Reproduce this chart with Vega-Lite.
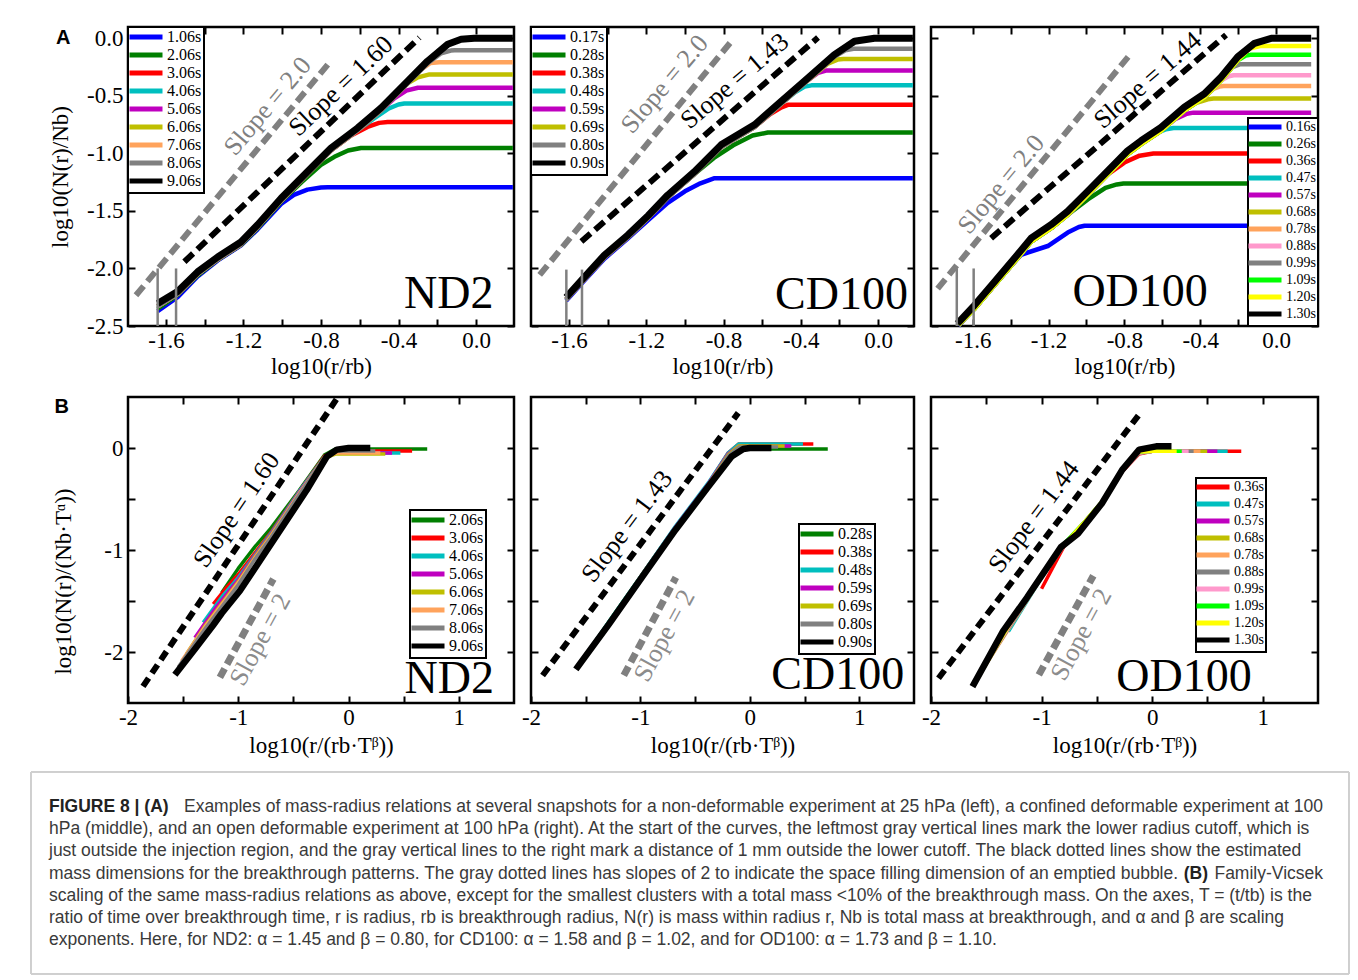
{
"$schema": "https://vega.github.io/schema/vega-lite/v6.json",
"background": "white",
"padding": {"left": 30, "top": 21, "right": 10, "bottom": 5},
"config": {
  "view": {"stroke": "black", "strokeWidth": 2.5},
  "axis": {"domain": false, "grid": false, "tickColor": "black", "tickWidth": 2, "tickSize": -7, "labelFont": "Liberation Serif", "labelFontSize": 23, "labelColor": "black", "labelFlush": false, "labelOverlap": false, "titleFont": "Liberation Serif", "titleFontSize": 23, "titleFontWeight": "normal", "titleColor": "black"},
  "axisX": {"labelPadding": 10},
  "axisY": {"labelPadding": 12},
  "legend": {"labelFont": "Liberation Serif", "labelFontSize": 16, "labelColor": "black", "symbolType": "M-5.5,0H5.5", "symbolStrokeWidth": 5, "symbolSize": 36, "symbolOffset": 8, "labelOffset": 13, "padding": 2, "rowPadding": -6, "strokeColor": "black", "fillColor": "white", "strokeWidth": 2}
},
"datasets": {
"curves": [
{"p":"A1","s":"1.06s","x":-1.643,"y":-2.37},{"p":"A1","s":"1.06s","x":-1.54,"y":-2.25},{"p":"A1","s":"1.06s","x":-1.437,"y":-2.07},{"p":"A1","s":"1.06s","x":-1.333,"y":-1.93},{"p":"A1","s":"1.06s","x":-1.213,"y":-1.8},{"p":"A1","s":"1.06s","x":-1.127,"y":-1.66},{"p":"A1","s":"1.06s","x":-1.006,"y":-1.44},{"p":"A1","s":"1.06s","x":-0.94,"y":-1.36},{"p":"A1","s":"1.06s","x":-0.87,"y":-1.315},{"p":"A1","s":"1.06s","x":-0.8,"y":-1.297},{"p":"A1","s":"1.06s","x":-0.766,"y":-1.294},{"p":"A1","s":"1.06s","x":0.19,"y":-1.294},
{"p":"A1","s":"2.06s","x":-1.643,"y":-2.35},{"p":"A1","s":"2.06s","x":-1.54,"y":-2.23},{"p":"A1","s":"2.06s","x":-1.437,"y":-2.06},{"p":"A1","s":"2.06s","x":-1.333,"y":-1.925},{"p":"A1","s":"2.06s","x":-1.213,"y":-1.795},{"p":"A1","s":"2.06s","x":-1.127,"y":-1.65},{"p":"A1","s":"2.06s","x":-1.006,"y":-1.42},{"p":"A1","s":"2.06s","x":-0.9,"y":-1.25},{"p":"A1","s":"2.06s","x":-0.8,"y":-1.1},{"p":"A1","s":"2.06s","x":-0.731,"y":-1.03},{"p":"A1","s":"2.06s","x":-0.66,"y":-0.975},{"p":"A1","s":"2.06s","x":-0.594,"y":-0.953},{"p":"A1","s":"2.06s","x":0.19,"y":-0.953},
{"p":"A1","s":"3.06s","x":-1.643,"y":-2.33},{"p":"A1","s":"3.06s","x":-1.54,"y":-2.22},{"p":"A1","s":"3.06s","x":-1.437,"y":-2.05},{"p":"A1","s":"3.06s","x":-1.333,"y":-1.92},{"p":"A1","s":"3.06s","x":-1.213,"y":-1.79},{"p":"A1","s":"3.06s","x":-1.127,"y":-1.64},{"p":"A1","s":"3.06s","x":-1.006,"y":-1.41},{"p":"A1","s":"3.06s","x":-0.869,"y":-1.177},{"p":"A1","s":"3.06s","x":-0.748,"y":-0.973},{"p":"A1","s":"3.06s","x":-0.65,"y":-0.85},{"p":"A1","s":"3.06s","x":-0.56,"y":-0.77},{"p":"A1","s":"3.06s","x":-0.5,"y":-0.735},{"p":"A1","s":"3.06s","x":-0.456,"y":-0.727},{"p":"A1","s":"3.06s","x":0.19,"y":-0.727},
{"p":"A1","s":"4.06s","x":-1.643,"y":-2.33},{"p":"A1","s":"4.06s","x":-1.54,"y":-2.22},{"p":"A1","s":"4.06s","x":-1.437,"y":-2.05},{"p":"A1","s":"4.06s","x":-1.333,"y":-1.92},{"p":"A1","s":"4.06s","x":-1.213,"y":-1.79},{"p":"A1","s":"4.06s","x":-1.127,"y":-1.64},{"p":"A1","s":"4.06s","x":-1.006,"y":-1.41},{"p":"A1","s":"4.06s","x":-0.869,"y":-1.177},{"p":"A1","s":"4.06s","x":-0.748,"y":-0.973},{"p":"A1","s":"4.06s","x":-0.611,"y":-0.799},{"p":"A1","s":"4.06s","x":-0.53,"y":-0.7},{"p":"A1","s":"4.06s","x":-0.45,"y":-0.61},{"p":"A1","s":"4.06s","x":-0.4,"y":-0.575},{"p":"A1","s":"4.06s","x":-0.37,"y":-0.567},{"p":"A1","s":"4.06s","x":0.19,"y":-0.567},
{"p":"A1","s":"5.06s","x":-1.643,"y":-2.33},{"p":"A1","s":"5.06s","x":-1.54,"y":-2.22},{"p":"A1","s":"5.06s","x":-1.437,"y":-2.05},{"p":"A1","s":"5.06s","x":-1.333,"y":-1.92},{"p":"A1","s":"5.06s","x":-1.213,"y":-1.79},{"p":"A1","s":"5.06s","x":-1.127,"y":-1.64},{"p":"A1","s":"5.06s","x":-1.006,"y":-1.41},{"p":"A1","s":"5.06s","x":-0.869,"y":-1.177},{"p":"A1","s":"5.06s","x":-0.748,"y":-0.973},{"p":"A1","s":"5.06s","x":-0.611,"y":-0.799},{"p":"A1","s":"5.06s","x":-0.49,"y":-0.625},{"p":"A1","s":"5.06s","x":-0.42,"y":-0.52},{"p":"A1","s":"5.06s","x":-0.36,"y":-0.455},{"p":"A1","s":"5.06s","x":-0.3,"y":-0.43},{"p":"A1","s":"5.06s","x":0.19,"y":-0.43},
{"p":"A1","s":"6.06s","x":-1.643,"y":-2.33},{"p":"A1","s":"6.06s","x":-1.54,"y":-2.22},{"p":"A1","s":"6.06s","x":-1.437,"y":-2.05},{"p":"A1","s":"6.06s","x":-1.333,"y":-1.92},{"p":"A1","s":"6.06s","x":-1.213,"y":-1.79},{"p":"A1","s":"6.06s","x":-1.127,"y":-1.64},{"p":"A1","s":"6.06s","x":-1.006,"y":-1.41},{"p":"A1","s":"6.06s","x":-0.869,"y":-1.177},{"p":"A1","s":"6.06s","x":-0.748,"y":-0.973},{"p":"A1","s":"6.06s","x":-0.611,"y":-0.799},{"p":"A1","s":"6.06s","x":-0.49,"y":-0.625},{"p":"A1","s":"6.06s","x":-0.353,"y":-0.392},{"p":"A1","s":"6.06s","x":-0.3,"y":-0.34},{"p":"A1","s":"6.06s","x":-0.24,"y":-0.314},{"p":"A1","s":"6.06s","x":0.19,"y":-0.314},
{"p":"A1","s":"7.06s","x":-1.643,"y":-2.33},{"p":"A1","s":"7.06s","x":-1.54,"y":-2.22},{"p":"A1","s":"7.06s","x":-1.437,"y":-2.05},{"p":"A1","s":"7.06s","x":-1.333,"y":-1.92},{"p":"A1","s":"7.06s","x":-1.213,"y":-1.79},{"p":"A1","s":"7.06s","x":-1.127,"y":-1.64},{"p":"A1","s":"7.06s","x":-1.006,"y":-1.41},{"p":"A1","s":"7.06s","x":-0.869,"y":-1.177},{"p":"A1","s":"7.06s","x":-0.748,"y":-0.973},{"p":"A1","s":"7.06s","x":-0.611,"y":-0.799},{"p":"A1","s":"7.06s","x":-0.49,"y":-0.625},{"p":"A1","s":"7.06s","x":-0.353,"y":-0.392},{"p":"A1","s":"7.06s","x":-0.29,"y":-0.28},{"p":"A1","s":"7.06s","x":-0.235,"y":-0.215},{"p":"A1","s":"7.06s","x":-0.19,"y":-0.209},{"p":"A1","s":"7.06s","x":0.19,"y":-0.209},
{"p":"A1","s":"8.06s","x":-1.643,"y":-2.33},{"p":"A1","s":"8.06s","x":-1.54,"y":-2.22},{"p":"A1","s":"8.06s","x":-1.437,"y":-2.05},{"p":"A1","s":"8.06s","x":-1.333,"y":-1.92},{"p":"A1","s":"8.06s","x":-1.213,"y":-1.79},{"p":"A1","s":"8.06s","x":-1.127,"y":-1.64},{"p":"A1","s":"8.06s","x":-1.006,"y":-1.41},{"p":"A1","s":"8.06s","x":-0.869,"y":-1.177},{"p":"A1","s":"8.06s","x":-0.748,"y":-0.973},{"p":"A1","s":"8.06s","x":-0.611,"y":-0.799},{"p":"A1","s":"8.06s","x":-0.49,"y":-0.625},{"p":"A1","s":"8.06s","x":-0.353,"y":-0.392},{"p":"A1","s":"8.06s","x":-0.25,"y":-0.218},{"p":"A1","s":"8.06s","x":-0.18,"y":-0.13},{"p":"A1","s":"8.06s","x":-0.13,"y":-0.107},{"p":"A1","s":"8.06s","x":-0.11,"y":-0.105},{"p":"A1","s":"8.06s","x":0.19,"y":-0.105},
{"p":"A1","s":"9.06s","x":-1.643,"y":-2.305},{"p":"A1","s":"9.06s","x":-1.54,"y":-2.2},{"p":"A1","s":"9.06s","x":-1.437,"y":-2.03},{"p":"A1","s":"9.06s","x":-1.333,"y":-1.9},{"p":"A1","s":"9.06s","x":-1.213,"y":-1.77},{"p":"A1","s":"9.06s","x":-1.127,"y":-1.62},{"p":"A1","s":"9.06s","x":-1.006,"y":-1.39},{"p":"A1","s":"9.06s","x":-0.869,"y":-1.157},{"p":"A1","s":"9.06s","x":-0.748,"y":-0.953},{"p":"A1","s":"9.06s","x":-0.611,"y":-0.779},{"p":"A1","s":"9.06s","x":-0.49,"y":-0.605},{"p":"A1","s":"9.06s","x":-0.353,"y":-0.372},{"p":"A1","s":"9.06s","x":-0.25,"y":-0.198},{"p":"A1","s":"9.06s","x":-0.146,"y":-0.052},{"p":"A1","s":"9.06s","x":-0.077,"y":-0.009},{"p":"A1","s":"9.06s","x":-0.009,"y":0},{"p":"A1","s":"9.06s","x":0.19,"y":0},

{"p":"A2","s":"0.17s","x":-1.615,"y":-2.28},{"p":"A2","s":"0.17s","x":-1.529,"y":-2.12},{"p":"A2","s":"0.17s","x":-1.417,"y":-1.915},{"p":"A2","s":"0.17s","x":-1.296,"y":-1.74},{"p":"A2","s":"0.17s","x":-1.19,"y":-1.58},{"p":"A2","s":"0.17s","x":-1.089,"y":-1.43},{"p":"A2","s":"0.17s","x":-1.0,"y":-1.33},{"p":"A2","s":"0.17s","x":-0.92,"y":-1.26},{"p":"A2","s":"0.17s","x":-0.85,"y":-1.217},{"p":"A2","s":"0.17s","x":0.18,"y":-1.217},
{"p":"A2","s":"0.28s","x":-1.615,"y":-2.27},{"p":"A2","s":"0.28s","x":-1.529,"y":-2.11},{"p":"A2","s":"0.28s","x":-1.417,"y":-1.904},{"p":"A2","s":"0.28s","x":-1.296,"y":-1.73},{"p":"A2","s":"0.28s","x":-1.19,"y":-1.56},{"p":"A2","s":"0.28s","x":-1.089,"y":-1.382},{"p":"A2","s":"0.28s","x":-0.951,"y":-1.179},{"p":"A2","s":"0.28s","x":-0.85,"y":-1.04},{"p":"A2","s":"0.28s","x":-0.75,"y":-0.93},{"p":"A2","s":"0.28s","x":-0.65,"y":-0.845},{"p":"A2","s":"0.28s","x":-0.571,"y":-0.819},{"p":"A2","s":"0.28s","x":0.18,"y":-0.819},
{"p":"A2","s":"0.38s","x":-1.615,"y":-2.27},{"p":"A2","s":"0.38s","x":-1.529,"y":-2.11},{"p":"A2","s":"0.38s","x":-1.417,"y":-1.904},{"p":"A2","s":"0.38s","x":-1.296,"y":-1.73},{"p":"A2","s":"0.38s","x":-1.19,"y":-1.56},{"p":"A2","s":"0.38s","x":-1.089,"y":-1.382},{"p":"A2","s":"0.38s","x":-0.951,"y":-1.179},{"p":"A2","s":"0.38s","x":-0.813,"y":-0.946},{"p":"A2","s":"0.38s","x":-0.64,"y":-0.772},{"p":"A2","s":"0.38s","x":-0.56,"y":-0.66},{"p":"A2","s":"0.38s","x":-0.5,"y":-0.6},{"p":"A2","s":"0.38s","x":-0.467,"y":-0.578},{"p":"A2","s":"0.38s","x":0.18,"y":-0.578},
{"p":"A2","s":"0.48s","x":-1.615,"y":-2.27},{"p":"A2","s":"0.48s","x":-1.529,"y":-2.11},{"p":"A2","s":"0.48s","x":-1.417,"y":-1.904},{"p":"A2","s":"0.48s","x":-1.296,"y":-1.73},{"p":"A2","s":"0.48s","x":-1.19,"y":-1.56},{"p":"A2","s":"0.48s","x":-1.089,"y":-1.382},{"p":"A2","s":"0.48s","x":-0.951,"y":-1.179},{"p":"A2","s":"0.48s","x":-0.813,"y":-0.946},{"p":"A2","s":"0.48s","x":-0.64,"y":-0.772},{"p":"A2","s":"0.48s","x":-0.502,"y":-0.569},{"p":"A2","s":"0.48s","x":-0.43,"y":-0.47},{"p":"A2","s":"0.48s","x":-0.38,"y":-0.42},{"p":"A2","s":"0.48s","x":-0.345,"y":-0.409},{"p":"A2","s":"0.48s","x":0.18,"y":-0.409},
{"p":"A2","s":"0.59s","x":-1.615,"y":-2.27},{"p":"A2","s":"0.59s","x":-1.529,"y":-2.11},{"p":"A2","s":"0.59s","x":-1.417,"y":-1.904},{"p":"A2","s":"0.59s","x":-1.296,"y":-1.73},{"p":"A2","s":"0.59s","x":-1.19,"y":-1.56},{"p":"A2","s":"0.59s","x":-1.089,"y":-1.382},{"p":"A2","s":"0.59s","x":-0.951,"y":-1.179},{"p":"A2","s":"0.59s","x":-0.813,"y":-0.946},{"p":"A2","s":"0.59s","x":-0.64,"y":-0.772},{"p":"A2","s":"0.59s","x":-0.502,"y":-0.569},{"p":"A2","s":"0.59s","x":-0.364,"y":-0.366},{"p":"A2","s":"0.59s","x":-0.31,"y":-0.3},{"p":"A2","s":"0.59s","x":-0.27,"y":-0.281},{"p":"A2","s":"0.59s","x":0.18,"y":-0.281},
{"p":"A2","s":"0.69s","x":-1.615,"y":-2.27},{"p":"A2","s":"0.69s","x":-1.529,"y":-2.11},{"p":"A2","s":"0.69s","x":-1.417,"y":-1.904},{"p":"A2","s":"0.69s","x":-1.296,"y":-1.73},{"p":"A2","s":"0.69s","x":-1.19,"y":-1.56},{"p":"A2","s":"0.69s","x":-1.089,"y":-1.382},{"p":"A2","s":"0.69s","x":-0.951,"y":-1.179},{"p":"A2","s":"0.69s","x":-0.813,"y":-0.946},{"p":"A2","s":"0.69s","x":-0.64,"y":-0.772},{"p":"A2","s":"0.69s","x":-0.502,"y":-0.569},{"p":"A2","s":"0.69s","x":-0.364,"y":-0.366},{"p":"A2","s":"0.69s","x":-0.26,"y":-0.22},{"p":"A2","s":"0.69s","x":-0.21,"y":-0.185},{"p":"A2","s":"0.69s","x":-0.18,"y":-0.18},{"p":"A2","s":"0.69s","x":0.18,"y":-0.18},
{"p":"A2","s":"0.80s","x":-1.615,"y":-2.27},{"p":"A2","s":"0.80s","x":-1.529,"y":-2.11},{"p":"A2","s":"0.80s","x":-1.417,"y":-1.904},{"p":"A2","s":"0.80s","x":-1.296,"y":-1.73},{"p":"A2","s":"0.80s","x":-1.19,"y":-1.56},{"p":"A2","s":"0.80s","x":-1.089,"y":-1.382},{"p":"A2","s":"0.80s","x":-0.951,"y":-1.179},{"p":"A2","s":"0.80s","x":-0.813,"y":-0.946},{"p":"A2","s":"0.80s","x":-0.64,"y":-0.772},{"p":"A2","s":"0.80s","x":-0.502,"y":-0.569},{"p":"A2","s":"0.80s","x":-0.364,"y":-0.366},{"p":"A2","s":"0.80s","x":-0.226,"y":-0.162},{"p":"A2","s":"0.80s","x":-0.17,"y":-0.105},{"p":"A2","s":"0.80s","x":-0.12,"y":-0.09},{"p":"A2","s":"0.80s","x":0.18,"y":-0.09},
{"p":"A2","s":"0.90s","x":-1.615,"y":-2.25},{"p":"A2","s":"0.90s","x":-1.529,"y":-2.09},{"p":"A2","s":"0.90s","x":-1.417,"y":-1.884},{"p":"A2","s":"0.90s","x":-1.296,"y":-1.71},{"p":"A2","s":"0.90s","x":-1.19,"y":-1.54},{"p":"A2","s":"0.90s","x":-1.089,"y":-1.362},{"p":"A2","s":"0.90s","x":-0.951,"y":-1.159},{"p":"A2","s":"0.90s","x":-0.813,"y":-0.926},{"p":"A2","s":"0.90s","x":-0.64,"y":-0.752},{"p":"A2","s":"0.90s","x":-0.502,"y":-0.549},{"p":"A2","s":"0.90s","x":-0.364,"y":-0.346},{"p":"A2","s":"0.90s","x":-0.226,"y":-0.142},{"p":"A2","s":"0.90s","x":-0.122,"y":-0.026},{"p":"A2","s":"0.90s","x":-0.019,"y":0},{"p":"A2","s":"0.90s","x":0.18,"y":0},

{"p":"A3","s":"0.16s","x":-1.675,"y":-2.5},{"p":"A3","s":"0.16s","x":-1.523,"y":-2.203},{"p":"A3","s":"0.16s","x":-1.345,"y":-1.881},{"p":"A3","s":"0.16s","x":-1.204,"y":-1.805},{"p":"A3","s":"0.16s","x":-1.099,"y":-1.688},{"p":"A3","s":"0.16s","x":-1.04,"y":-1.64},{"p":"A3","s":"0.16s","x":-1.01,"y":-1.629},{"p":"A3","s":"0.16s","x":0.185,"y":-1.629},
{"p":"A3","s":"0.26s","x":-1.675,"y":-2.49},{"p":"A3","s":"0.26s","x":-1.591,"y":-2.35},{"p":"A3","s":"0.26s","x":-1.486,"y":-2.147},{"p":"A3","s":"0.26s","x":-1.38,"y":-1.942},{"p":"A3","s":"0.26s","x":-1.292,"y":-1.767},{"p":"A3","s":"0.26s","x":-1.187,"y":-1.65},{"p":"A3","s":"0.26s","x":-1.099,"y":-1.533},{"p":"A3","s":"0.26s","x":-0.993,"y":-1.4},{"p":"A3","s":"0.26s","x":-0.9,"y":-1.3},{"p":"A3","s":"0.26s","x":-0.84,"y":-1.27},{"p":"A3","s":"0.26s","x":-0.805,"y":-1.262},{"p":"A3","s":"0.26s","x":0.185,"y":-1.262},
{"p":"A3","s":"0.36s","x":-1.675,"y":-2.49},{"p":"A3","s":"0.36s","x":-1.591,"y":-2.35},{"p":"A3","s":"0.36s","x":-1.486,"y":-2.147},{"p":"A3","s":"0.36s","x":-1.38,"y":-1.942},{"p":"A3","s":"0.36s","x":-1.292,"y":-1.767},{"p":"A3","s":"0.36s","x":-1.187,"y":-1.65},{"p":"A3","s":"0.36s","x":-1.099,"y":-1.533},{"p":"A3","s":"0.36s","x":-0.993,"y":-1.358},{"p":"A3","s":"0.36s","x":-0.888,"y":-1.183},{"p":"A3","s":"0.36s","x":-0.8,"y":-1.08},{"p":"A3","s":"0.36s","x":-0.72,"y":-1.02},{"p":"A3","s":"0.36s","x":-0.647,"y":-1.002},{"p":"A3","s":"0.36s","x":0.185,"y":-1.002},
{"p":"A3","s":"0.47s","x":-1.675,"y":-2.49},{"p":"A3","s":"0.47s","x":-1.591,"y":-2.35},{"p":"A3","s":"0.47s","x":-1.486,"y":-2.147},{"p":"A3","s":"0.47s","x":-1.38,"y":-1.942},{"p":"A3","s":"0.47s","x":-1.292,"y":-1.767},{"p":"A3","s":"0.47s","x":-1.187,"y":-1.65},{"p":"A3","s":"0.47s","x":-1.099,"y":-1.533},{"p":"A3","s":"0.47s","x":-0.993,"y":-1.358},{"p":"A3","s":"0.47s","x":-0.888,"y":-1.183},{"p":"A3","s":"0.47s","x":-0.783,"y":-1.007},{"p":"A3","s":"0.47s","x":-0.712,"y":-0.92},{"p":"A3","s":"0.47s","x":-0.64,"y":-0.83},{"p":"A3","s":"0.47s","x":-0.58,"y":-0.79},{"p":"A3","s":"0.47s","x":-0.541,"y":-0.78},{"p":"A3","s":"0.47s","x":0.185,"y":-0.78},
{"p":"A3","s":"0.57s","x":-1.675,"y":-2.49},{"p":"A3","s":"0.57s","x":-1.591,"y":-2.35},{"p":"A3","s":"0.57s","x":-1.486,"y":-2.147},{"p":"A3","s":"0.57s","x":-1.38,"y":-1.942},{"p":"A3","s":"0.57s","x":-1.292,"y":-1.767},{"p":"A3","s":"0.57s","x":-1.187,"y":-1.65},{"p":"A3","s":"0.57s","x":-1.099,"y":-1.533},{"p":"A3","s":"0.57s","x":-0.993,"y":-1.358},{"p":"A3","s":"0.57s","x":-0.888,"y":-1.183},{"p":"A3","s":"0.57s","x":-0.783,"y":-1.007},{"p":"A3","s":"0.57s","x":-0.712,"y":-0.92},{"p":"A3","s":"0.57s","x":-0.607,"y":-0.804},{"p":"A3","s":"0.57s","x":-0.53,"y":-0.7},{"p":"A3","s":"0.57s","x":-0.47,"y":-0.655},{"p":"A3","s":"0.57s","x":-0.436,"y":-0.646},{"p":"A3","s":"0.57s","x":0.185,"y":-0.646},
{"p":"A3","s":"0.68s","x":-1.675,"y":-2.49},{"p":"A3","s":"0.68s","x":-1.591,"y":-2.35},{"p":"A3","s":"0.68s","x":-1.486,"y":-2.147},{"p":"A3","s":"0.68s","x":-1.38,"y":-1.942},{"p":"A3","s":"0.68s","x":-1.292,"y":-1.767},{"p":"A3","s":"0.68s","x":-1.187,"y":-1.65},{"p":"A3","s":"0.68s","x":-1.099,"y":-1.533},{"p":"A3","s":"0.68s","x":-0.993,"y":-1.358},{"p":"A3","s":"0.68s","x":-0.888,"y":-1.183},{"p":"A3","s":"0.68s","x":-0.783,"y":-1.007},{"p":"A3","s":"0.68s","x":-0.712,"y":-0.92},{"p":"A3","s":"0.68s","x":-0.607,"y":-0.804},{"p":"A3","s":"0.68s","x":-0.484,"y":-0.629},{"p":"A3","s":"0.68s","x":-0.42,"y":-0.56},{"p":"A3","s":"0.68s","x":-0.36,"y":-0.53},{"p":"A3","s":"0.68s","x":-0.33,"y":-0.524},{"p":"A3","s":"0.68s","x":0.185,"y":-0.524},
{"p":"A3","s":"0.78s","x":-1.675,"y":-2.49},{"p":"A3","s":"0.78s","x":-1.591,"y":-2.35},{"p":"A3","s":"0.78s","x":-1.486,"y":-2.147},{"p":"A3","s":"0.78s","x":-1.38,"y":-1.942},{"p":"A3","s":"0.78s","x":-1.292,"y":-1.767},{"p":"A3","s":"0.78s","x":-1.187,"y":-1.65},{"p":"A3","s":"0.78s","x":-1.099,"y":-1.533},{"p":"A3","s":"0.78s","x":-0.993,"y":-1.358},{"p":"A3","s":"0.78s","x":-0.888,"y":-1.183},{"p":"A3","s":"0.78s","x":-0.783,"y":-1.007},{"p":"A3","s":"0.78s","x":-0.712,"y":-0.92},{"p":"A3","s":"0.78s","x":-0.607,"y":-0.804},{"p":"A3","s":"0.78s","x":-0.484,"y":-0.629},{"p":"A3","s":"0.78s","x":-0.378,"y":-0.512},{"p":"A3","s":"0.78s","x":-0.33,"y":-0.44},{"p":"A3","s":"0.78s","x":-0.3,"y":-0.42},{"p":"A3","s":"0.78s","x":-0.277,"y":-0.414},{"p":"A3","s":"0.78s","x":0.185,"y":-0.414},
{"p":"A3","s":"0.88s","x":-1.675,"y":-2.49},{"p":"A3","s":"0.88s","x":-1.591,"y":-2.35},{"p":"A3","s":"0.88s","x":-1.486,"y":-2.147},{"p":"A3","s":"0.88s","x":-1.38,"y":-1.942},{"p":"A3","s":"0.88s","x":-1.292,"y":-1.767},{"p":"A3","s":"0.88s","x":-1.187,"y":-1.65},{"p":"A3","s":"0.88s","x":-1.099,"y":-1.533},{"p":"A3","s":"0.88s","x":-0.993,"y":-1.358},{"p":"A3","s":"0.88s","x":-0.888,"y":-1.183},{"p":"A3","s":"0.88s","x":-0.783,"y":-1.007},{"p":"A3","s":"0.88s","x":-0.712,"y":-0.92},{"p":"A3","s":"0.88s","x":-0.607,"y":-0.804},{"p":"A3","s":"0.88s","x":-0.484,"y":-0.629},{"p":"A3","s":"0.88s","x":-0.378,"y":-0.512},{"p":"A3","s":"0.88s","x":-0.29,"y":-0.366},{"p":"A3","s":"0.88s","x":-0.25,"y":-0.33},{"p":"A3","s":"0.88s","x":-0.224,"y":-0.321},{"p":"A3","s":"0.88s","x":0.185,"y":-0.321},
{"p":"A3","s":"0.99s","x":-1.675,"y":-2.49},{"p":"A3","s":"0.99s","x":-1.591,"y":-2.35},{"p":"A3","s":"0.99s","x":-1.486,"y":-2.147},{"p":"A3","s":"0.99s","x":-1.38,"y":-1.942},{"p":"A3","s":"0.99s","x":-1.292,"y":-1.767},{"p":"A3","s":"0.99s","x":-1.187,"y":-1.65},{"p":"A3","s":"0.99s","x":-1.099,"y":-1.533},{"p":"A3","s":"0.99s","x":-0.993,"y":-1.358},{"p":"A3","s":"0.99s","x":-0.888,"y":-1.183},{"p":"A3","s":"0.99s","x":-0.783,"y":-1.007},{"p":"A3","s":"0.99s","x":-0.712,"y":-0.92},{"p":"A3","s":"0.99s","x":-0.607,"y":-0.804},{"p":"A3","s":"0.99s","x":-0.484,"y":-0.629},{"p":"A3","s":"0.99s","x":-0.378,"y":-0.512},{"p":"A3","s":"0.99s","x":-0.29,"y":-0.366},{"p":"A3","s":"0.99s","x":-0.23,"y":-0.25},{"p":"A3","s":"0.99s","x":-0.189,"y":-0.225},{"p":"A3","s":"0.99s","x":0.185,"y":-0.225},
{"p":"A3","s":"1.09s","x":-1.675,"y":-2.49},{"p":"A3","s":"1.09s","x":-1.591,"y":-2.35},{"p":"A3","s":"1.09s","x":-1.486,"y":-2.147},{"p":"A3","s":"1.09s","x":-1.38,"y":-1.942},{"p":"A3","s":"1.09s","x":-1.292,"y":-1.767},{"p":"A3","s":"1.09s","x":-1.187,"y":-1.65},{"p":"A3","s":"1.09s","x":-1.099,"y":-1.533},{"p":"A3","s":"1.09s","x":-0.993,"y":-1.358},{"p":"A3","s":"1.09s","x":-0.888,"y":-1.183},{"p":"A3","s":"1.09s","x":-0.783,"y":-1.007},{"p":"A3","s":"1.09s","x":-0.712,"y":-0.92},{"p":"A3","s":"1.09s","x":-0.607,"y":-0.804},{"p":"A3","s":"1.09s","x":-0.484,"y":-0.629},{"p":"A3","s":"1.09s","x":-0.378,"y":-0.512},{"p":"A3","s":"1.09s","x":-0.29,"y":-0.366},{"p":"A3","s":"1.09s","x":-0.202,"y":-0.191},{"p":"A3","s":"1.09s","x":-0.16,"y":-0.15},{"p":"A3","s":"1.09s","x":-0.136,"y":-0.144},{"p":"A3","s":"1.09s","x":0.185,"y":-0.144},
{"p":"A3","s":"1.20s","x":-1.675,"y":-2.49},{"p":"A3","s":"1.20s","x":-1.591,"y":-2.35},{"p":"A3","s":"1.20s","x":-1.486,"y":-2.147},{"p":"A3","s":"1.20s","x":-1.38,"y":-1.942},{"p":"A3","s":"1.20s","x":-1.292,"y":-1.767},{"p":"A3","s":"1.20s","x":-1.187,"y":-1.65},{"p":"A3","s":"1.20s","x":-1.099,"y":-1.533},{"p":"A3","s":"1.20s","x":-0.993,"y":-1.358},{"p":"A3","s":"1.20s","x":-0.888,"y":-1.183},{"p":"A3","s":"1.20s","x":-0.783,"y":-1.007},{"p":"A3","s":"1.20s","x":-0.712,"y":-0.92},{"p":"A3","s":"1.20s","x":-0.607,"y":-0.804},{"p":"A3","s":"1.20s","x":-0.484,"y":-0.629},{"p":"A3","s":"1.20s","x":-0.378,"y":-0.512},{"p":"A3","s":"1.20s","x":-0.29,"y":-0.366},{"p":"A3","s":"1.20s","x":-0.202,"y":-0.191},{"p":"A3","s":"1.20s","x":-0.14,"y":-0.09},{"p":"A3","s":"1.20s","x":-0.084,"y":-0.068},{"p":"A3","s":"1.20s","x":0.185,"y":-0.068},
{"p":"A3","s":"1.30s","x":-1.681,"y":-2.48},{"p":"A3","s":"1.30s","x":-1.591,"y":-2.32},{"p":"A3","s":"1.30s","x":-1.486,"y":-2.117},{"p":"A3","s":"1.30s","x":-1.38,"y":-1.912},{"p":"A3","s":"1.30s","x":-1.292,"y":-1.737},{"p":"A3","s":"1.30s","x":-1.187,"y":-1.62},{"p":"A3","s":"1.30s","x":-1.099,"y":-1.503},{"p":"A3","s":"1.30s","x":-0.993,"y":-1.328},{"p":"A3","s":"1.30s","x":-0.888,"y":-1.153},{"p":"A3","s":"1.30s","x":-0.783,"y":-0.977},{"p":"A3","s":"1.30s","x":-0.712,"y":-0.89},{"p":"A3","s":"1.30s","x":-0.607,"y":-0.774},{"p":"A3","s":"1.30s","x":-0.484,"y":-0.599},{"p":"A3","s":"1.30s","x":-0.378,"y":-0.482},{"p":"A3","s":"1.30s","x":-0.29,"y":-0.336},{"p":"A3","s":"1.30s","x":-0.202,"y":-0.161},{"p":"A3","s":"1.30s","x":-0.114,"y":-0.044},{"p":"A3","s":"1.30s","x":-0.026,"y":0},{"p":"A3","s":"1.30s","x":0.185,"y":0},

{"p":"B1","s":"2.06s","x":-1.15,"y":-1.42},{"p":"B1","s":"2.06s","x":-1.0,"y":-1.18},{"p":"B1","s":"2.06s","x":-0.85,"y":-0.97},{"p":"B1","s":"2.06s","x":-0.7,"y":-0.78},{"p":"B1","s":"2.06s","x":-0.45,"y":-0.42},{"p":"B1","s":"2.06s","x":-0.22,"y":-0.07},{"p":"B1","s":"2.06s","x":-0.12,"y":-0.01},{"p":"B1","s":"2.06s","x":0.713,"y":-0.01},
{"p":"B1","s":"3.06s","x":-1.227,"y":-1.53},{"p":"B1","s":"3.06s","x":-1.1,"y":-1.36},{"p":"B1","s":"3.06s","x":-1.0,"y":-1.24},{"p":"B1","s":"3.06s","x":-0.85,"y":-1.03},{"p":"B1","s":"3.06s","x":-0.7,"y":-0.82},{"p":"B1","s":"3.06s","x":-0.45,"y":-0.43},{"p":"B1","s":"3.06s","x":-0.22,"y":-0.08},{"p":"B1","s":"3.06s","x":-0.12,"y":-0.03},{"p":"B1","s":"3.06s","x":0.576,"y":-0.03},
{"p":"B1","s":"4.06s","x":-1.318,"y":-1.71},{"p":"B1","s":"4.06s","x":-1.15,"y":-1.46},{"p":"B1","s":"4.06s","x":-1.0,"y":-1.27},{"p":"B1","s":"4.06s","x":-0.85,"y":-1.05},{"p":"B1","s":"4.06s","x":-0.7,"y":-0.83},{"p":"B1","s":"4.06s","x":-0.45,"y":-0.43},{"p":"B1","s":"4.06s","x":-0.22,"y":-0.09},{"p":"B1","s":"4.06s","x":-0.12,"y":-0.05},{"p":"B1","s":"4.06s","x":0.47,"y":-0.05},
{"p":"B1","s":"5.06s","x":-1.394,"y":-1.86},{"p":"B1","s":"5.06s","x":-1.2,"y":-1.56},{"p":"B1","s":"5.06s","x":-1.0,"y":-1.29},{"p":"B1","s":"5.06s","x":-0.85,"y":-1.06},{"p":"B1","s":"5.06s","x":-0.7,"y":-0.84},{"p":"B1","s":"5.06s","x":-0.45,"y":-0.44},{"p":"B1","s":"5.06s","x":-0.22,"y":-0.1},{"p":"B1","s":"5.06s","x":-0.12,"y":-0.05},{"p":"B1","s":"5.06s","x":0.394,"y":-0.05},
{"p":"B1","s":"6.06s","x":-1.47,"y":-2.02},{"p":"B1","s":"6.06s","x":-1.3,"y":-1.74},{"p":"B1","s":"6.06s","x":-1.0,"y":-1.31},{"p":"B1","s":"6.06s","x":-0.85,"y":-1.07},{"p":"B1","s":"6.06s","x":-0.7,"y":-0.85},{"p":"B1","s":"6.06s","x":-0.45,"y":-0.45},{"p":"B1","s":"6.06s","x":-0.22,"y":-0.1},{"p":"B1","s":"6.06s","x":-0.12,"y":-0.06},{"p":"B1","s":"6.06s","x":0.333,"y":-0.06},
{"p":"B1","s":"7.06s","x":-1.515,"y":-2.09},{"p":"B1","s":"7.06s","x":-1.3,"y":-1.75},{"p":"B1","s":"7.06s","x":-1.0,"y":-1.32},{"p":"B1","s":"7.06s","x":-0.85,"y":-1.08},{"p":"B1","s":"7.06s","x":-0.7,"y":-0.86},{"p":"B1","s":"7.06s","x":-0.45,"y":-0.45},{"p":"B1","s":"7.06s","x":-0.22,"y":-0.1},{"p":"B1","s":"7.06s","x":-0.12,"y":-0.05},{"p":"B1","s":"7.06s","x":0.288,"y":-0.05},
{"p":"B1","s":"8.06s","x":-1.545,"y":-2.15},{"p":"B1","s":"8.06s","x":-1.3,"y":-1.77},{"p":"B1","s":"8.06s","x":-1.0,"y":-1.34},{"p":"B1","s":"8.06s","x":-0.85,"y":-1.09},{"p":"B1","s":"8.06s","x":-0.7,"y":-0.87},{"p":"B1","s":"8.06s","x":-0.45,"y":-0.46},{"p":"B1","s":"8.06s","x":-0.22,"y":-0.1},{"p":"B1","s":"8.06s","x":-0.12,"y":-0.03},{"p":"B1","s":"8.06s","x":0.242,"y":-0.03},
{"p":"B1","s":"9.06s","x":-1.575,"y":-2.223},{"p":"B1","s":"9.06s","x":-1.4,"y":-1.98},{"p":"B1","s":"9.06s","x":-1.23,"y":-1.74},{"p":"B1","s":"9.06s","x":-1.15,"y":-1.62},{"p":"B1","s":"9.06s","x":-0.985,"y":-1.4},{"p":"B1","s":"9.06s","x":-0.682,"y":-0.906},{"p":"B1","s":"9.06s","x":-0.379,"y":-0.412},{"p":"B1","s":"9.06s","x":-0.197,"y":-0.083},{"p":"B1","s":"9.06s","x":-0.106,"y":-0.016},{"p":"B1","s":"9.06s","x":0,"y":0},{"p":"B1","s":"9.06s","x":0.197,"y":0},

{"p":"B2","s":"0.28s","x":-1.4,"y":-1.88},{"p":"B2","s":"0.28s","x":-1.287,"y":-1.7},{"p":"B2","s":"0.28s","x":-0.985,"y":-1.24},{"p":"B2","s":"0.28s","x":-0.682,"y":-0.78},{"p":"B2","s":"0.28s","x":-0.379,"y":-0.36},{"p":"B2","s":"0.28s","x":-0.17,"y":-0.06},{"p":"B2","s":"0.28s","x":-0.08,"y":-0.01},{"p":"B2","s":"0.28s","x":0.712,"y":-0.01},
{"p":"B2","s":"0.38s","x":-1.2,"y":-1.58},{"p":"B2","s":"0.38s","x":-0.985,"y":-1.24},{"p":"B2","s":"0.38s","x":-0.682,"y":-0.78},{"p":"B2","s":"0.38s","x":-0.379,"y":-0.35},{"p":"B2","s":"0.38s","x":-0.2,"y":-0.05},{"p":"B2","s":"0.38s","x":-0.1,"y":0.04},{"p":"B2","s":"0.38s","x":0.58,"y":0.04},
{"p":"B2","s":"0.48s","x":-1.45,"y":-1.95},{"p":"B2","s":"0.48s","x":-1.287,"y":-1.7},{"p":"B2","s":"0.48s","x":-0.985,"y":-1.24},{"p":"B2","s":"0.48s","x":-0.682,"y":-0.77},{"p":"B2","s":"0.48s","x":-0.379,"y":-0.34},{"p":"B2","s":"0.48s","x":-0.2,"y":-0.05},{"p":"B2","s":"0.48s","x":-0.1,"y":0.04},{"p":"B2","s":"0.48s","x":0.485,"y":0.04},
{"p":"B2","s":"0.59s","x":-1.48,"y":-2.0},{"p":"B2","s":"0.59s","x":-1.287,"y":-1.71},{"p":"B2","s":"0.59s","x":-0.985,"y":-1.25},{"p":"B2","s":"0.59s","x":-0.682,"y":-0.78},{"p":"B2","s":"0.59s","x":-0.379,"y":-0.35},{"p":"B2","s":"0.59s","x":-0.2,"y":-0.06},{"p":"B2","s":"0.59s","x":-0.1,"y":0.02},{"p":"B2","s":"0.59s","x":0.379,"y":0.02},
{"p":"B2","s":"0.69s","x":-1.52,"y":-2.06},{"p":"B2","s":"0.69s","x":-1.287,"y":-1.71},{"p":"B2","s":"0.69s","x":-0.985,"y":-1.25},{"p":"B2","s":"0.69s","x":-0.682,"y":-0.79},{"p":"B2","s":"0.69s","x":-0.379,"y":-0.36},{"p":"B2","s":"0.69s","x":-0.2,"y":-0.07},{"p":"B2","s":"0.69s","x":-0.1,"y":0.02},{"p":"B2","s":"0.69s","x":0.318,"y":0.02},
{"p":"B2","s":"0.80s","x":-1.55,"y":-2.1},{"p":"B2","s":"0.80s","x":-1.287,"y":-1.72},{"p":"B2","s":"0.80s","x":-0.985,"y":-1.26},{"p":"B2","s":"0.80s","x":-0.682,"y":-0.8},{"p":"B2","s":"0.80s","x":-0.379,"y":-0.37},{"p":"B2","s":"0.80s","x":-0.2,"y":-0.08},{"p":"B2","s":"0.80s","x":-0.1,"y":0.01},{"p":"B2","s":"0.80s","x":0.258,"y":0.01},
{"p":"B2","s":"0.90s","x":-1.59,"y":-2.17},{"p":"B2","s":"0.90s","x":-1.287,"y":-1.727},{"p":"B2","s":"0.90s","x":-0.985,"y":-1.267},{"p":"B2","s":"0.90s","x":-0.682,"y":-0.806},{"p":"B2","s":"0.90s","x":-0.379,"y":-0.378},{"p":"B2","s":"0.90s","x":-0.167,"y":-0.083},{"p":"B2","s":"0.90s","x":-0.06,"y":-0.01},{"p":"B2","s":"0.90s","x":0,"y":0},{"p":"B2","s":"0.90s","x":0.197,"y":0},

{"p":"B3","s":"0.36s","x":-1.0,"y":-1.38},{"p":"B3","s":"0.36s","x":-0.8,"y":-0.97},{"p":"B3","s":"0.36s","x":-0.6,"y":-0.73},{"p":"B3","s":"0.36s","x":-0.45,"y":-0.54},{"p":"B3","s":"0.36s","x":-0.27,"y":-0.23},{"p":"B3","s":"0.36s","x":-0.12,"y":-0.06},{"p":"B3","s":"0.36s","x":0,"y":-0.033},{"p":"B3","s":"0.36s","x":0.806,"y":-0.033},
{"p":"B3","s":"0.47s","x":-1.3,"y":-1.8},{"p":"B3","s":"0.47s","x":-1.0,"y":-1.27},{"p":"B3","s":"0.47s","x":-0.8,"y":-0.96},{"p":"B3","s":"0.47s","x":-0.6,"y":-0.72},{"p":"B3","s":"0.47s","x":-0.45,"y":-0.53},{"p":"B3","s":"0.47s","x":-0.27,"y":-0.22},{"p":"B3","s":"0.47s","x":-0.12,"y":-0.05},{"p":"B3","s":"0.47s","x":0,"y":-0.033},{"p":"B3","s":"0.47s","x":0.683,"y":-0.033},
{"p":"B3","s":"0.57s","x":-1.45,"y":-2.0},{"p":"B3","s":"0.57s","x":-1.3,"y":-1.77},{"p":"B3","s":"0.57s","x":-1.0,"y":-1.26},{"p":"B3","s":"0.57s","x":-0.8,"y":-0.96},{"p":"B3","s":"0.57s","x":-0.6,"y":-0.73},{"p":"B3","s":"0.57s","x":-0.45,"y":-0.54},{"p":"B3","s":"0.57s","x":-0.27,"y":-0.22},{"p":"B3","s":"0.57s","x":-0.12,"y":-0.05},{"p":"B3","s":"0.57s","x":0,"y":-0.033},{"p":"B3","s":"0.57s","x":0.59,"y":-0.033},
{"p":"B3","s":"0.68s","x":-1.5,"y":-2.1},{"p":"B3","s":"0.68s","x":-1.3,"y":-1.76},{"p":"B3","s":"0.68s","x":-1.0,"y":-1.25},{"p":"B3","s":"0.68s","x":-0.8,"y":-0.95},{"p":"B3","s":"0.68s","x":-0.6,"y":-0.71},{"p":"B3","s":"0.68s","x":-0.45,"y":-0.52},{"p":"B3","s":"0.68s","x":-0.27,"y":-0.21},{"p":"B3","s":"0.68s","x":-0.12,"y":-0.05},{"p":"B3","s":"0.68s","x":0,"y":-0.033},{"p":"B3","s":"0.68s","x":0.498,"y":-0.033},
{"p":"B3","s":"0.78s","x":-1.52,"y":-2.15},{"p":"B3","s":"0.78s","x":-1.3,"y":-1.78},{"p":"B3","s":"0.78s","x":-1.0,"y":-1.27},{"p":"B3","s":"0.78s","x":-0.8,"y":-0.96},{"p":"B3","s":"0.78s","x":-0.6,"y":-0.72},{"p":"B3","s":"0.78s","x":-0.45,"y":-0.53},{"p":"B3","s":"0.78s","x":-0.27,"y":-0.22},{"p":"B3","s":"0.78s","x":-0.12,"y":-0.05},{"p":"B3","s":"0.78s","x":0,"y":-0.033},{"p":"B3","s":"0.78s","x":0.437,"y":-0.033},
{"p":"B3","s":"0.88s","x":-1.55,"y":-2.2},{"p":"B3","s":"0.88s","x":-1.3,"y":-1.77},{"p":"B3","s":"0.88s","x":-1.0,"y":-1.26},{"p":"B3","s":"0.88s","x":-0.8,"y":-0.95},{"p":"B3","s":"0.88s","x":-0.6,"y":-0.72},{"p":"B3","s":"0.88s","x":-0.45,"y":-0.53},{"p":"B3","s":"0.88s","x":-0.27,"y":-0.22},{"p":"B3","s":"0.88s","x":-0.12,"y":-0.05},{"p":"B3","s":"0.88s","x":0,"y":-0.033},{"p":"B3","s":"0.88s","x":0.375,"y":-0.033},
{"p":"B3","s":"0.99s","x":-1.55,"y":-2.2},{"p":"B3","s":"0.99s","x":-1.3,"y":-1.76},{"p":"B3","s":"0.99s","x":-1.0,"y":-1.25},{"p":"B3","s":"0.99s","x":-0.8,"y":-0.95},{"p":"B3","s":"0.99s","x":-0.6,"y":-0.71},{"p":"B3","s":"0.99s","x":-0.45,"y":-0.52},{"p":"B3","s":"0.99s","x":-0.27,"y":-0.21},{"p":"B3","s":"0.99s","x":-0.12,"y":-0.05},{"p":"B3","s":"0.99s","x":0,"y":-0.033},{"p":"B3","s":"0.99s","x":0.33,"y":-0.033},
{"p":"B3","s":"1.09s","x":-1.58,"y":-2.25},{"p":"B3","s":"1.09s","x":-1.3,"y":-1.74},{"p":"B3","s":"1.09s","x":-1.0,"y":-1.24},{"p":"B3","s":"1.09s","x":-0.8,"y":-0.94},{"p":"B3","s":"1.09s","x":-0.6,"y":-0.71},{"p":"B3","s":"1.09s","x":-0.45,"y":-0.52},{"p":"B3","s":"1.09s","x":-0.27,"y":-0.21},{"p":"B3","s":"1.09s","x":-0.12,"y":-0.04},{"p":"B3","s":"1.09s","x":0,"y":-0.033},{"p":"B3","s":"1.09s","x":0.268,"y":-0.033},
{"p":"B3","s":"1.20s","x":-1.6,"y":-2.3},{"p":"B3","s":"1.20s","x":-1.3,"y":-1.75},{"p":"B3","s":"1.20s","x":-1.0,"y":-1.25},{"p":"B3","s":"1.20s","x":-0.8,"y":-0.95},{"p":"B3","s":"1.20s","x":-0.6,"y":-0.71},{"p":"B3","s":"1.20s","x":-0.45,"y":-0.52},{"p":"B3","s":"1.20s","x":-0.27,"y":-0.21},{"p":"B3","s":"1.20s","x":-0.12,"y":-0.04},{"p":"B3","s":"1.20s","x":0,"y":-0.033},{"p":"B3","s":"1.20s","x":0.222,"y":-0.033},
{"p":"B3","s":"1.30s","x":-1.625,"y":-2.34},{"p":"B3","s":"1.30s","x":-1.348,"y":-1.796},{"p":"B3","s":"1.30s","x":-1.132,"y":-1.466},{"p":"B3","s":"1.30s","x":-0.825,"y":-0.972},{"p":"B3","s":"1.30s","x":-0.671,"y":-0.84},{"p":"B3","s":"1.30s","x":-0.455,"y":-0.544},{"p":"B3","s":"1.30s","x":-0.271,"y":-0.214},{"p":"B3","s":"1.30s","x":-0.117,"y":-0.016},{"p":"B3","s":"1.30s","x":0.037,"y":0.016},{"p":"B3","s":"1.30s","x":0.175,"y":0.016}
],
"slopes": [
{"p":"A1","k":"g","x":-1.755,"y":-2.233},{"p":"A1","k":"g","x":-0.757,"y":-0.212},
{"p":"A1","k":"b","x":-1.505,"y":-1.942},{"p":"A1","k":"b","x":-0.292,"y":0.006},
{"p":"A2","k":"g","x":-1.752,"y":-2.056},{"p":"A2","k":"g","x":-0.751,"y":-0.009},
{"p":"A2","k":"b","x":-1.536,"y":-1.765},{"p":"A2","k":"b","x":-0.311,"y":0.006},
{"p":"A3","k":"g","x":-1.785,"y":-2.175},{"p":"A3","k":"g","x":-0.765,"y":-0.131},
{"p":"A3","k":"b","x":-1.503,"y":-1.737},{"p":"A3","k":"b","x":-0.264,"y":0.029},
{"p":"B1","k":"b","x":-1.864,"y":-2.337},{"p":"B1","k":"b","x":-0.106,"y":0.484},
{"p":"B1","k":"g","x":-1.167,"y":-2.249},{"p":"B1","k":"g","x":-0.682,"y":-1.284},
{"p":"B2","k":"b","x":-1.894,"y":-2.23},{"p":"B2","k":"b","x":-0.106,"y":0.344},
{"p":"B2","k":"g","x":-1.152,"y":-2.23},{"p":"B2","k":"g","x":-0.676,"y":-1.269},
{"p":"B3","k":"b","x":-1.932,"y":-2.257},{"p":"B3","k":"b","x":-0.117,"y":0.329},
{"p":"B3","k":"g","x":-1.025,"y":-2.224},{"p":"B3","k":"g","x":-0.532,"y":-1.252}
],
"labels": [
{"p":"A1","k":"g","x":-1.075,"y":-0.59,"t":"Slope = 2.0"},{"p":"A1","k":"b","x":-0.697,"y":-0.416,"t":"Slope = 1.60"},
{"p":"A2","k":"g","x":-1.105,"y":-0.4,"t":"Slope = 2.0"},{"p":"A2","k":"b","x":-0.742,"y":-0.372,"t":"Slope = 1.43"},
{"p":"A3","k":"g","x":-1.45,"y":-1.27,"t":"Slope = 2.0"},{"p":"A3","k":"b","x":-0.677,"y":-0.365,"t":"Slope = 1.44"},
{"p":"B1","k":"b","x":-1.015,"y":-0.609,"t":"Slope = 1.60"},{"p":"B1","k":"g","x":-0.8,"y":-1.88,"t":"Slope = 2"},
{"p":"B2","k":"b","x":-1.121,"y":-0.77,"t":"Slope = 1.43"},{"p":"B2","k":"g","x":-0.78,"y":-1.84,"t":"Slope = 2"},
{"p":"B3","k":"b","x":-1.07,"y":-0.675,"t":"Slope = 1.44"},{"p":"B3","k":"g","x":-0.64,"y":-1.83,"t":"Slope = 2"}
],
"names": [
{"p":"A1","x":0.09,"y":-2.34,"t":"ND2"},{"p":"A2","x":0.155,"y":-2.35,"t":"CD100"},{"p":"A3","x":-0.36,"y":-2.33,"t":"OD100"},
{"p":"B1","x":1.318,"y":-2.4,"t":"ND2"},{"p":"B2","x":1.41,"y":-2.36,"t":"CD100"},{"p":"B3","x":0.9,"y":-2.38,"t":"OD100"}
],
"cut": [
{"p":"A1","x":-1.643,"y":-2.5,"y2":-2.0},{"p":"A1","x":-1.548,"y":-2.5,"y2":-2.0},
{"p":"A2","x":-1.614,"y":-2.5,"y2":-2.01},{"p":"A2","x":-1.533,"y":-2.5,"y2":-2.01},
{"p":"A3","x":-1.684,"y":-2.5,"y2":-2.0},{"p":"A3","x":-1.595,"y":-2.5,"y2":-2.0}
],
"letters": [
{"p":"A1","x":-2.13,"y":0.0,"t":"A"},{"p":"B1","x":-2.6,"y":0.4,"t":"B"}
],
"cap": [
{"l":1,"c":0,"w":"b","t":"FIGURE 8 | (A)"},
{"l":1,"c":1,"w":"n","t":"Examples of mass-radius relations at several snapshots for a non-deformable experiment at 25 hPa (left), a confined deformable experiment at 100"},
{"l":2,"c":0,"w":"n","t":"hPa (middle), and an open deformable experiment at 100 hPa (right). At the start of the curves, the leftmost gray vertical lines mark the lower radius cutoff, which is"},
{"l":3,"c":0,"w":"n","t":"just outside the injection region, and the gray vertical lines to the right mark a distance of 1 mm outside the lower cutoff. The black dotted lines show the estimated"},
{"l":4,"c":0,"w":"n","t":"mass dimensions for the breakthrough patterns. The gray dotted lines has slopes of 2 to indicate the space filling dimension of an emptied bubble."},
{"l":4,"c":1,"w":"b","t":"(B)"},
{"l":4,"c":1,"w":"n","t":"Family-Vicsek"},
{"l":5,"c":0,"w":"n","t":"scaling of the same mass-radius relations as above, except for the smallest clusters with a total mass <10% of the breakthrough mass. On the axes, T = (t/tb) is the"},
{"l":6,"c":0,"w":"n","t":"ratio of time over breakthrough time, r is radius, rb is breakthrough radius, N(r) is mass within radius r, Nb is total mass at breakthrough, and α and β are scaling"},
{"l":7,"c":0,"w":"n","t":"exponents. Here, for ND2: α = 1.45 and β = 0.80, for CD100: α = 1.58 and β = 1.02, and for OD100: α = 1.73 and β = 1.10."}
]
},
"vconcat": [
{
"concat": [
{
"width": 386, "height": 299,
"resolve": {"axis": {"x": "independent", "y": "independent"}},
"layer": [
{"data": {"name": "curves"}, "transform": [{"filter": "datum.p == 'A1'"}],
 "mark": {"type": "line", "strokeCap": "butt", "strokeJoin": "round"},
 "encoding": {
  "x": {"field": "x", "type": "quantitative", "scale": {"domain": [-1.796, 0.196], "nice": false, "zero": false},
        "axis": {"orient": "bottom", "values": [-1.6,-1.4,-1.2,-1.0,-0.8,-0.6,-0.4,-0.2,0.0], "labelExpr": "round(datum.value*10) % 4 == 0 ? replace(format(datum.value,'.1f'),'\u2212','-') : ''", "title": "log10(r/rb)", "titlePadding": 3}},
  "y": {"field": "y", "type": "quantitative", "scale": {"domain": [-2.5, 0.098], "nice": false, "zero": false},
        "axis": {"orient": "left", "values": [-2.5,-2.0,-1.5,-1.0,-0.5,0.0], "labelExpr": "replace(format(datum.value,'.1f'),'\u2212','-')", "title": "log10(N(r)/Nb)", "titlePadding": 14}},
  "color": {"field": "s", "type": "nominal", "scale": {"domain": ["1.06s","2.06s","3.06s","4.06s","5.06s","6.06s","7.06s","8.06s","9.06s"], "range": ["#0000ff","#007f00","#ff0000","#00bfbf","#bf00bf","#bfbf00","#ffa35c","#808080","#000000"]},
            "legend": {"orient": "top-left", "offset": 0, "title": null, "labelFont": "Liberation Serif", "labelFontSize": 16, "symbolType": "M-5.5,0H5.5", "symbolSize": 36, "symbolStrokeWidth": 5, "symbolOffset": 8, "labelOffset": 13, "rowPadding": -6}},
  "strokeWidth": {"condition": {"test": "datum.s == '9.06s'", "value": 7}, "value": 4.5}
 }},
{"data": {"name": "slopes"}, "transform": [{"filter": "datum.p == 'A1' && datum.k == 'g'"}],
 "mark": {"type": "line", "color": "#808080", "strokeWidth": 6, "strokeDash": [12, 6], "strokeCap": "butt"},
 "encoding": {"x": {"field": "x", "type": "quantitative", "axis": null}, "y": {"field": "y", "type": "quantitative", "axis": null}}},
{"data": {"name": "slopes"}, "transform": [{"filter": "datum.p == 'A1' && datum.k == 'b'"}],
 "mark": {"type": "line", "color": "#000000", "strokeWidth": 6, "strokeDash": [12, 6], "strokeCap": "butt"},
 "encoding": {"x": {"field": "x", "type": "quantitative", "axis": null}, "y": {"field": "y", "type": "quantitative", "axis": null}}},
{"data": {"name": "cut"}, "transform": [{"filter": "datum.p == 'A1'"}],
 "mark": {"type": "rule", "color": "#808080", "strokeWidth": 2.5},
 "encoding": {"x": {"field": "x", "type": "quantitative", "axis": null}, "y": {"field": "y", "type": "quantitative", "axis": null}, "y2": {"field": "y2"}}},
{"data": {"name": "labels"}, "transform": [{"filter": "datum.p == 'A1' && datum.k == 'g'"}],
 "mark": {"type": "text", "angle": -49.8, "font": "Liberation Serif", "fontSize": 26, "color": "#808080"},
 "encoding": {"x": {"field": "x", "type": "quantitative", "axis": null}, "y": {"field": "y", "type": "quantitative", "axis": null}, "text": {"field": "t"}}},
{"data": {"name": "labels"}, "transform": [{"filter": "datum.p == 'A1' && datum.k == 'b'"}],
 "mark": {"type": "text", "angle": -43.5, "font": "Liberation Serif", "fontSize": 26, "color": "#000000"},
 "encoding": {"x": {"field": "x", "type": "quantitative", "axis": null}, "y": {"field": "y", "type": "quantitative", "axis": null}, "text": {"field": "t"}}},
{"data": {"name": "names"}, "transform": [{"filter": "datum.p == 'A1'"}],
 "mark": {"type": "text", "align": "right", "baseline": "alphabetic", "font": "Liberation Serif", "fontSize": 46, "color": "#000000"},
 "encoding": {"x": {"field": "x", "type": "quantitative", "axis": null}, "y": {"field": "y", "type": "quantitative", "axis": null}, "text": {"field": "t"}}},
{"data": {"name": "letters"}, "transform": [{"filter": "datum.p == 'A1'"}],
 "mark": {"type": "text", "align": "center", "baseline": "middle", "font": "Liberation Sans", "fontWeight": "bold", "fontSize": 20, "color": "#000000"},
 "encoding": {"x": {"field": "x", "type": "quantitative", "axis": null}, "y": {"field": "y", "type": "quantitative", "axis": null}, "text": {"field": "t"}}},
{"data": {"name": "curves"}, "transform": [{"filter": "datum.p == 'A1'"}],
 "mark": {"type": "point", "opacity": 0},
 "encoding": {"x": {"field": "x", "type": "quantitative", "axis": {"orient": "top", "values": [-1.6,-1.4,-1.2,-1.0,-0.8,-0.6,-0.4,-0.2,0.0], "labels": false, "title": null}},
              "y": {"field": "y", "type": "quantitative", "axis": {"orient": "right", "values": [-2.5,-2.0,-1.5,-1.0,-0.5,0.0], "labels": false, "title": null}}}}
]
},
{
"width": 383, "height": 299,
"resolve": {"axis": {"x": "independent", "y": "independent"}},
"layer": [
{"data": {"name": "curves"}, "transform": [{"filter": "datum.p == 'A2'"}],
 "mark": {"type": "line", "strokeCap": "butt", "strokeJoin": "round"},
 "encoding": {
  "x": {"field": "x", "type": "quantitative", "scale": {"domain": [-1.797, 0.186], "nice": false, "zero": false},
        "axis": {"orient": "bottom", "values": [-1.6,-1.4,-1.2,-1.0,-0.8,-0.6,-0.4,-0.2,0.0], "labelExpr": "round(datum.value*10) % 4 == 0 ? replace(format(datum.value,'.1f'),'\u2212','-') : ''", "title": "log10(r/rb)", "titlePadding": 3}},
  "y": {"field": "y", "type": "quantitative", "scale": {"domain": [-2.5, 0.098], "nice": false, "zero": false},
        "axis": {"orient": "left", "values": [-2.5,-2.0,-1.5,-1.0,-0.5,0.0], "labels": false, "title": null}},
  "color": {"field": "s", "type": "nominal", "scale": {"domain": ["0.17s","0.28s","0.38s","0.48s","0.59s","0.69s","0.80s","0.90s"], "range": ["#0000ff","#007f00","#ff0000","#00bfbf","#bf00bf","#bfbf00","#808080","#000000"]},
            "legend": {"orient": "top-left", "offset": 0, "title": null, "labelFont": "Liberation Serif", "labelFontSize": 16, "symbolType": "M-5.5,0H5.5", "symbolSize": 36, "symbolStrokeWidth": 5, "symbolOffset": 8, "labelOffset": 13, "rowPadding": -6}},
  "strokeWidth": {"condition": {"test": "datum.s == '0.90s'", "value": 7}, "value": 4.5}
 }},
{"data": {"name": "slopes"}, "transform": [{"filter": "datum.p == 'A2' && datum.k == 'g'"}],
 "mark": {"type": "line", "color": "#808080", "strokeWidth": 6, "strokeDash": [12, 6], "strokeCap": "butt"},
 "encoding": {"x": {"field": "x", "type": "quantitative", "axis": null}, "y": {"field": "y", "type": "quantitative", "axis": null}}},
{"data": {"name": "slopes"}, "transform": [{"filter": "datum.p == 'A2' && datum.k == 'b'"}],
 "mark": {"type": "line", "color": "#000000", "strokeWidth": 6, "strokeDash": [12, 6], "strokeCap": "butt"},
 "encoding": {"x": {"field": "x", "type": "quantitative", "axis": null}, "y": {"field": "y", "type": "quantitative", "axis": null}}},
{"data": {"name": "cut"}, "transform": [{"filter": "datum.p == 'A2'"}],
 "mark": {"type": "rule", "color": "#808080", "strokeWidth": 2.5},
 "encoding": {"x": {"field": "x", "type": "quantitative", "axis": null}, "y": {"field": "y", "type": "quantitative", "axis": null}, "y2": {"field": "y2"}}},
{"data": {"name": "labels"}, "transform": [{"filter": "datum.p == 'A2' && datum.k == 'g'"}],
 "mark": {"type": "text", "angle": -49.8, "font": "Liberation Serif", "fontSize": 26, "color": "#808080"},
 "encoding": {"x": {"field": "x", "type": "quantitative", "axis": null}, "y": {"field": "y", "type": "quantitative", "axis": null}, "text": {"field": "t"}}},
{"data": {"name": "labels"}, "transform": [{"filter": "datum.p == 'A2' && datum.k == 'b'"}],
 "mark": {"type": "text", "angle": -40.4, "font": "Liberation Serif", "fontSize": 26, "color": "#000000"},
 "encoding": {"x": {"field": "x", "type": "quantitative", "axis": null}, "y": {"field": "y", "type": "quantitative", "axis": null}, "text": {"field": "t"}}},
{"data": {"name": "names"}, "transform": [{"filter": "datum.p == 'A2'"}],
 "mark": {"type": "text", "align": "right", "baseline": "alphabetic", "font": "Liberation Serif", "fontSize": 46, "color": "#000000"},
 "encoding": {"x": {"field": "x", "type": "quantitative", "axis": null}, "y": {"field": "y", "type": "quantitative", "axis": null}, "text": {"field": "t"}}},
{"data": {"name": "curves"}, "transform": [{"filter": "datum.p == 'A2'"}],
 "mark": {"type": "point", "opacity": 0},
 "encoding": {"x": {"field": "x", "type": "quantitative", "axis": {"orient": "top", "values": [-1.6,-1.4,-1.2,-1.0,-0.8,-0.6,-0.4,-0.2,0.0], "labels": false, "title": null}},
              "y": {"field": "y", "type": "quantitative", "axis": {"orient": "right", "values": [-2.5,-2.0,-1.5,-1.0,-0.5,0.0], "labels": false, "title": null}}}}
]
},
{
"width": 387, "height": 299,
"resolve": {"axis": {"x": "independent", "y": "independent"}},
"layer": [
{"data": {"name": "curves"}, "transform": [{"filter": "datum.p == 'A3'"}],
 "mark": {"type": "line", "strokeCap": "butt", "strokeJoin": "round"},
 "encoding": {
  "x": {"field": "x", "type": "quantitative", "scale": {"domain": [-1.82, 0.221], "nice": false, "zero": false},
        "axis": {"orient": "bottom", "values": [-1.6,-1.4,-1.2,-1.0,-0.8,-0.6,-0.4,-0.2,0.0], "labelExpr": "round(datum.value*10) % 4 == 0 ? replace(format(datum.value,'.1f'),'\u2212','-') : ''", "title": "log10(r/rb)", "titlePadding": 3}},
  "y": {"field": "y", "type": "quantitative", "scale": {"domain": [-2.5, 0.098], "nice": false, "zero": false},
        "axis": {"orient": "left", "values": [-2.5,-2.0,-1.5,-1.0,-0.5,0.0], "labels": false, "title": null}},
  "color": {"field": "s", "type": "nominal", "scale": {"domain": ["0.16s","0.26s","0.36s","0.47s","0.57s","0.68s","0.78s","0.88s","0.99s","1.09s","1.20s","1.30s"], "range": ["#0000ff","#007f00","#ff0000","#00bfbf","#bf00bf","#bfbf00","#ffa35c","#ff99cc","#808080","#00ff00","#ffff00","#000000"]},
            "legend": {"orient": "bottom-right", "offset": 0, "title": null, "labelFont": "Liberation Serif", "labelFontSize": 14, "symbolType": "M-5.5,0H5.5", "symbolSize": 36, "symbolStrokeWidth": 5, "symbolOffset": 8, "labelOffset": 14, "rowPadding": -6}},
  "strokeWidth": {"condition": {"test": "datum.s == '1.30s'", "value": 7}, "value": 4.5}
 }},
{"data": {"name": "slopes"}, "transform": [{"filter": "datum.p == 'A3' && datum.k == 'g'"}],
 "mark": {"type": "line", "color": "#808080", "strokeWidth": 6, "strokeDash": [12, 6], "strokeCap": "butt"},
 "encoding": {"x": {"field": "x", "type": "quantitative", "axis": null}, "y": {"field": "y", "type": "quantitative", "axis": null}}},
{"data": {"name": "slopes"}, "transform": [{"filter": "datum.p == 'A3' && datum.k == 'b'"}],
 "mark": {"type": "line", "color": "#000000", "strokeWidth": 6, "strokeDash": [12, 6], "strokeCap": "butt"},
 "encoding": {"x": {"field": "x", "type": "quantitative", "axis": null}, "y": {"field": "y", "type": "quantitative", "axis": null}}},
{"data": {"name": "cut"}, "transform": [{"filter": "datum.p == 'A3'"}],
 "mark": {"type": "rule", "color": "#808080", "strokeWidth": 2.5},
 "encoding": {"x": {"field": "x", "type": "quantitative", "axis": null}, "y": {"field": "y", "type": "quantitative", "axis": null}, "y2": {"field": "y2"}}},
{"data": {"name": "labels"}, "transform": [{"filter": "datum.p == 'A3' && datum.k == 'g'"}],
 "mark": {"type": "text", "angle": -50.3, "font": "Liberation Serif", "fontSize": 26, "color": "#808080"},
 "encoding": {"x": {"field": "x", "type": "quantitative", "axis": null}, "y": {"field": "y", "type": "quantitative", "axis": null}, "text": {"field": "t"}}},
{"data": {"name": "labels"}, "transform": [{"filter": "datum.p == 'A3' && datum.k == 'b'"}],
 "mark": {"type": "text", "angle": -40.9, "font": "Liberation Serif", "fontSize": 26, "color": "#000000"},
 "encoding": {"x": {"field": "x", "type": "quantitative", "axis": null}, "y": {"field": "y", "type": "quantitative", "axis": null}, "text": {"field": "t"}}},
{"data": {"name": "names"}, "transform": [{"filter": "datum.p == 'A3'"}],
 "mark": {"type": "text", "align": "right", "baseline": "alphabetic", "font": "Liberation Serif", "fontSize": 46, "color": "#000000"},
 "encoding": {"x": {"field": "x", "type": "quantitative", "axis": null}, "y": {"field": "y", "type": "quantitative", "axis": null}, "text": {"field": "t"}}},
{"data": {"name": "curves"}, "transform": [{"filter": "datum.p == 'A3'"}],
 "mark": {"type": "point", "opacity": 0},
 "encoding": {"x": {"field": "x", "type": "quantitative", "axis": {"orient": "top", "values": [-1.6,-1.4,-1.2,-1.0,-0.8,-0.6,-0.4,-0.2,0.0], "labels": false, "title": null}},
              "y": {"field": "y", "type": "quantitative", "axis": {"orient": "right", "values": [-2.5,-2.0,-1.5,-1.0,-0.5,0.0], "labels": false, "title": null}}}}
]
},
{
"width": 386, "height": 306,
"resolve": {"axis": {"x": "independent", "y": "independent"}},
"layer": [
{"data": {"name": "curves"}, "transform": [{"filter": "datum.p == 'B1'"}],
 "mark": {"type": "line", "strokeCap": "butt", "strokeJoin": "round"},
 "encoding": {
  "x": {"field": "x", "type": "quantitative", "scale": {"domain": [-2, 1.5], "nice": false, "zero": false},
        "axis": {"orient": "bottom", "values": [-2,-1.5,-1,-0.5,0,0.5,1], "labelExpr": "datum.value == round(datum.value) ? replace(format(datum.value,'d'),'\u2212','-') : ''", "title": "log10(r/(rb·Tᵝ))", "titlePadding": 5}},
  "y": {"field": "y", "type": "quantitative", "scale": {"domain": [-2.5, 0.5], "nice": false, "zero": false},
        "axis": {"orient": "left", "values": [-2,-1.5,-1,-0.5,0], "labelExpr": "datum.value == round(datum.value) ? replace(format(datum.value,'d'),'\u2212','-') : ''", "title": "log10(N(r)/(Nb·Tᵅ))", "titlePadding": 28, "titleY": 184}},
  "color": {"field": "s", "type": "nominal", "scale": {"domain": ["2.06s","3.06s","4.06s","5.06s","6.06s","7.06s","8.06s","9.06s"], "range": ["#007f00","#ff0000","#00bfbf","#bf00bf","#bfbf00","#ffa35c","#808080","#000000"]},
            "legend": {"orient": "none", "legendX": 282, "legendY": 113, "title": null, "labelFont": "Liberation Serif", "labelFontSize": 16, "symbolType": "M-5.5,0H5.5", "symbolSize": 36, "symbolStrokeWidth": 5, "symbolOffset": 8, "labelOffset": 13, "rowPadding": -6}},
  "strokeWidth": {"condition": {"test": "datum.s == '9.06s'", "value": 6.5}, "value": 3.5}
 }},
{"data": {"name": "slopes"}, "transform": [{"filter": "datum.p == 'B1' && datum.k == 'g'"}],
 "mark": {"type": "line", "color": "#808080", "strokeWidth": 7, "strokeDash": [10, 5], "strokeCap": "butt"},
 "encoding": {"x": {"field": "x", "type": "quantitative", "axis": null}, "y": {"field": "y", "type": "quantitative", "axis": null}}},
{"data": {"name": "slopes"}, "transform": [{"filter": "datum.p == 'B1' && datum.k == 'b'"}],
 "mark": {"type": "line", "color": "#000000", "strokeWidth": 6, "strokeDash": [10, 6], "strokeCap": "butt"},
 "encoding": {"x": {"field": "x", "type": "quantitative", "axis": null}, "y": {"field": "y", "type": "quantitative", "axis": null}}},
{"data": {"name": "labels"}, "transform": [{"filter": "datum.p == 'B1' && datum.k == 'g'"}],
 "mark": {"type": "text", "angle": -61.5, "font": "Liberation Serif", "fontSize": 26, "color": "#8c8c8c"},
 "encoding": {"x": {"field": "x", "type": "quantitative", "axis": null}, "y": {"field": "y", "type": "quantitative", "axis": null}, "text": {"field": "t"}}},
{"data": {"name": "labels"}, "transform": [{"filter": "datum.p == 'B1' && datum.k == 'b'"}],
 "mark": {"type": "text", "angle": -55.8, "font": "Liberation Serif", "fontSize": 26, "color": "#000000"},
 "encoding": {"x": {"field": "x", "type": "quantitative", "axis": null}, "y": {"field": "y", "type": "quantitative", "axis": null}, "text": {"field": "t"}}},
{"data": {"name": "names"}, "transform": [{"filter": "datum.p == 'B1'"}],
 "mark": {"type": "text", "align": "right", "baseline": "alphabetic", "font": "Liberation Serif", "fontSize": 46, "color": "#000000"},
 "encoding": {"x": {"field": "x", "type": "quantitative", "axis": null}, "y": {"field": "y", "type": "quantitative", "axis": null}, "text": {"field": "t"}}},
{"data": {"name": "letters"}, "transform": [{"filter": "datum.p == 'B1'"}],
 "mark": {"type": "text", "align": "center", "baseline": "middle", "font": "Liberation Sans", "fontWeight": "bold", "fontSize": 20, "color": "#000000"},
 "encoding": {"x": {"field": "x", "type": "quantitative", "axis": null}, "y": {"field": "y", "type": "quantitative", "axis": null}, "text": {"field": "t"}}},
{"data": {"name": "curves"}, "transform": [{"filter": "datum.p == 'B1'"}],
 "mark": {"type": "point", "opacity": 0},
 "encoding": {"x": {"field": "x", "type": "quantitative", "axis": {"orient": "top", "values": [-1.5,-1,-0.5,0,0.5,1], "labels": false, "title": null}},
              "y": {"field": "y", "type": "quantitative", "axis": {"orient": "right", "values": [-2,-1.5,-1,-0.5,0], "labels": false, "title": null}}}}
]
},
{
"width": 383, "height": 306,
"resolve": {"axis": {"x": "independent", "y": "independent"}},
"layer": [
{"data": {"name": "curves"}, "transform": [{"filter": "datum.p == 'B2'"}],
 "mark": {"type": "line", "strokeCap": "butt", "strokeJoin": "round"},
 "encoding": {
  "x": {"field": "x", "type": "quantitative", "scale": {"domain": [-2, 1.5], "nice": false, "zero": false},
        "axis": {"orient": "bottom", "values": [-2,-1.5,-1,-0.5,0,0.5,1], "labelExpr": "datum.value == round(datum.value) ? replace(format(datum.value,'d'),'\u2212','-') : ''", "title": "log10(r/(rb·Tᵝ))", "titlePadding": 5}},
  "y": {"field": "y", "type": "quantitative", "scale": {"domain": [-2.5, 0.5], "nice": false, "zero": false},
        "axis": {"orient": "left", "values": [-2,-1.5,-1,-0.5,0], "labels": false, "title": null}},
  "color": {"field": "s", "type": "nominal", "scale": {"domain": ["0.28s","0.38s","0.48s","0.59s","0.69s","0.80s","0.90s"], "range": ["#007f00","#ff0000","#00bfbf","#bf00bf","#bfbf00","#808080","#000000"]},
            "legend": {"orient": "none", "legendX": 268, "legendY": 127, "title": null, "labelFont": "Liberation Serif", "labelFontSize": 16, "symbolType": "M-5.5,0H5.5", "symbolSize": 36, "symbolStrokeWidth": 5, "symbolOffset": 8, "labelOffset": 13, "rowPadding": -6}},
  "strokeWidth": {"condition": {"test": "datum.s == '0.90s'", "value": 6.5}, "value": 3.5}
 }},
{"data": {"name": "slopes"}, "transform": [{"filter": "datum.p == 'B2' && datum.k == 'g'"}],
 "mark": {"type": "line", "color": "#808080", "strokeWidth": 7, "strokeDash": [10, 5], "strokeCap": "butt"},
 "encoding": {"x": {"field": "x", "type": "quantitative", "axis": null}, "y": {"field": "y", "type": "quantitative", "axis": null}}},
{"data": {"name": "slopes"}, "transform": [{"filter": "datum.p == 'B2' && datum.k == 'b'"}],
 "mark": {"type": "line", "color": "#000000", "strokeWidth": 6, "strokeDash": [10, 6], "strokeCap": "butt"},
 "encoding": {"x": {"field": "x", "type": "quantitative", "axis": null}, "y": {"field": "y", "type": "quantitative", "axis": null}}},
{"data": {"name": "labels"}, "transform": [{"filter": "datum.p == 'B2' && datum.k == 'g'"}],
 "mark": {"type": "text", "angle": -61.5, "font": "Liberation Serif", "fontSize": 26, "color": "#8c8c8c"},
 "encoding": {"x": {"field": "x", "type": "quantitative", "axis": null}, "y": {"field": "y", "type": "quantitative", "axis": null}, "text": {"field": "t"}}},
{"data": {"name": "labels"}, "transform": [{"filter": "datum.p == 'B2' && datum.k == 'b'"}],
 "mark": {"type": "text", "angle": -52.8, "font": "Liberation Serif", "fontSize": 26, "color": "#000000"},
 "encoding": {"x": {"field": "x", "type": "quantitative", "axis": null}, "y": {"field": "y", "type": "quantitative", "axis": null}, "text": {"field": "t"}}},
{"data": {"name": "names"}, "transform": [{"filter": "datum.p == 'B2'"}],
 "mark": {"type": "text", "align": "right", "baseline": "alphabetic", "font": "Liberation Serif", "fontSize": 46, "color": "#000000"},
 "encoding": {"x": {"field": "x", "type": "quantitative", "axis": null}, "y": {"field": "y", "type": "quantitative", "axis": null}, "text": {"field": "t"}}},
{"data": {"name": "curves"}, "transform": [{"filter": "datum.p == 'B2'"}],
 "mark": {"type": "point", "opacity": 0},
 "encoding": {"x": {"field": "x", "type": "quantitative", "axis": {"orient": "top", "values": [-1.5,-1,-0.5,0,0.5,1], "labels": false, "title": null}},
              "y": {"field": "y", "type": "quantitative", "axis": {"orient": "right", "values": [-2,-1.5,-1,-0.5,0], "labels": false, "title": null}}}}
]
},
{
"width": 387, "height": 306,
"resolve": {"axis": {"x": "independent", "y": "independent"}},
"layer": [
{"data": {"name": "curves"}, "transform": [{"filter": "datum.p == 'B3'"}],
 "mark": {"type": "line", "strokeCap": "butt", "strokeJoin": "round"},
 "encoding": {
  "x": {"field": "x", "type": "quantitative", "scale": {"domain": [-2, 1.5], "nice": false, "zero": false},
        "axis": {"orient": "bottom", "values": [-2,-1.5,-1,-0.5,0,0.5,1], "labelExpr": "datum.value == round(datum.value) ? replace(format(datum.value,'d'),'\u2212','-') : ''", "title": "log10(r/(rb·Tᵝ))", "titlePadding": 5}},
  "y": {"field": "y", "type": "quantitative", "scale": {"domain": [-2.5, 0.5], "nice": false, "zero": false},
        "axis": {"orient": "left", "values": [-2,-1.5,-1,-0.5,0], "labels": false, "title": null}},
  "color": {"field": "s", "type": "nominal", "scale": {"domain": ["0.36s","0.47s","0.57s","0.68s","0.78s","0.88s","0.99s","1.09s","1.20s","1.30s"], "range": ["#ff0000","#00bfbf","#bf00bf","#bfbf00","#ffa35c","#808080","#ff99cc","#00ff00","#ffff00","#000000"]},
            "legend": {"orient": "none", "legendX": 265, "legendY": 81, "title": null, "labelFont": "Liberation Serif", "labelFontSize": 14, "symbolType": "M-5.5,0H5.5", "symbolSize": 36, "symbolStrokeWidth": 5, "symbolOffset": 8, "labelOffset": 14, "rowPadding": -6}},
  "strokeWidth": {"condition": {"test": "datum.s == '1.30s'", "value": 6.5}, "value": 3.5}
 }},
{"data": {"name": "slopes"}, "transform": [{"filter": "datum.p == 'B3' && datum.k == 'g'"}],
 "mark": {"type": "line", "color": "#808080", "strokeWidth": 7, "strokeDash": [10, 5], "strokeCap": "butt"},
 "encoding": {"x": {"field": "x", "type": "quantitative", "axis": null}, "y": {"field": "y", "type": "quantitative", "axis": null}}},
{"data": {"name": "slopes"}, "transform": [{"filter": "datum.p == 'B3' && datum.k == 'b'"}],
 "mark": {"type": "line", "color": "#000000", "strokeWidth": 6, "strokeDash": [10, 6], "strokeCap": "butt"},
 "encoding": {"x": {"field": "x", "type": "quantitative", "axis": null}, "y": {"field": "y", "type": "quantitative", "axis": null}}},
{"data": {"name": "labels"}, "transform": [{"filter": "datum.p == 'B3' && datum.k == 'g'"}],
 "mark": {"type": "text", "angle": -61.5, "font": "Liberation Serif", "fontSize": 26, "color": "#8c8c8c"},
 "encoding": {"x": {"field": "x", "type": "quantitative", "axis": null}, "y": {"field": "y", "type": "quantitative", "axis": null}, "text": {"field": "t"}}},
{"data": {"name": "labels"}, "transform": [{"filter": "datum.p == 'B3' && datum.k == 'b'"}],
 "mark": {"type": "text", "angle": -53.0, "font": "Liberation Serif", "fontSize": 26, "color": "#000000"},
 "encoding": {"x": {"field": "x", "type": "quantitative", "axis": null}, "y": {"field": "y", "type": "quantitative", "axis": null}, "text": {"field": "t"}}},
{"data": {"name": "names"}, "transform": [{"filter": "datum.p == 'B3'"}],
 "mark": {"type": "text", "align": "right", "baseline": "alphabetic", "font": "Liberation Serif", "fontSize": 46, "color": "#000000"},
 "encoding": {"x": {"field": "x", "type": "quantitative", "axis": null}, "y": {"field": "y", "type": "quantitative", "axis": null}, "text": {"field": "t"}}},
{"data": {"name": "curves"}, "transform": [{"filter": "datum.p == 'B3'"}],
 "mark": {"type": "point", "opacity": 0},
 "encoding": {"x": {"field": "x", "type": "quantitative", "axis": {"orient": "top", "values": [-1.5,-1,-0.5,0,0.5,1], "labels": false, "title": null}},
              "y": {"field": "y", "type": "quantitative", "axis": {"orient": "right", "values": [-2,-1.5,-1,-0.5,0], "labels": false, "title": null}}}}
]
}
],
"columns": 3,
"spacing": {"row": 71, "column": 17},
"bounds": "flush",
"resolve": {"scale": {"color": "independent"}}
},
{
"width": 1190, "height": 202,
"view": {"stroke": null},
"data": {"name": "cap"},
"layer": [
{"mark": {"type": "rect", "fillOpacity": 0, "stroke": "#cfcfcf", "strokeWidth": 1},
 "encoding": {"x": {"datum": 0, "type": "quantitative", "scale": {"domain": [0, 1], "range": [-97, 1221], "nice": false, "zero": false}, "axis": null},
              "x2": {"datum": 1},
              "y": {"datum": -0.577, "type": "quantitative", "scale": {"domain": [-0.577, 8.523], "reverse": true, "nice": false, "zero": false}, "axis": null},
              "y2": {"datum": 8.523}}},
{"transform": [{"filter": "datum.w == 'n' && datum.c == 0"}],
 "mark": {"type": "text", "align": "left", "baseline": "middle", "font": "Liberation Sans", "fontSize": 17.5, "color": "#3a3a3a"},
 "encoding": {"x": {"datum": 0.01366, "type": "quantitative"}, "y": {"field": "l", "type": "quantitative"}, "text": {"field": "t"}}},
{"transform": [{"filter": "datum.w == 'n' && datum.c == 1"}],
 "mark": {"type": "text", "align": "right", "baseline": "middle", "font": "Liberation Sans", "fontSize": 17.5, "color": "#3a3a3a"},
 "encoding": {"x": {"datum": 0.9803, "type": "quantitative"}, "y": {"field": "l", "type": "quantitative"}, "text": {"field": "t"}}},
{"transform": [{"filter": "datum.w == 'b' && datum.c == 0"}],
 "mark": {"type": "text", "align": "left", "baseline": "middle", "font": "Liberation Sans", "fontWeight": "bold", "fontSize": 17.5, "color": "#222222"},
 "encoding": {"x": {"datum": 0.01366, "type": "quantitative"}, "y": {"field": "l", "type": "quantitative"}, "text": {"field": "t"}}},
{"transform": [{"filter": "datum.w == 'b' && datum.c == 1"}],
 "mark": {"type": "text", "align": "right", "baseline": "middle", "font": "Liberation Sans", "fontWeight": "bold", "fontSize": 17.5, "color": "#222222", "dx": -115},
 "encoding": {"x": {"datum": 0.9803, "type": "quantitative"}, "y": {"field": "l", "type": "quantitative"}, "text": {"field": "t"}}}
]
}
],
"spacing": 12
}
